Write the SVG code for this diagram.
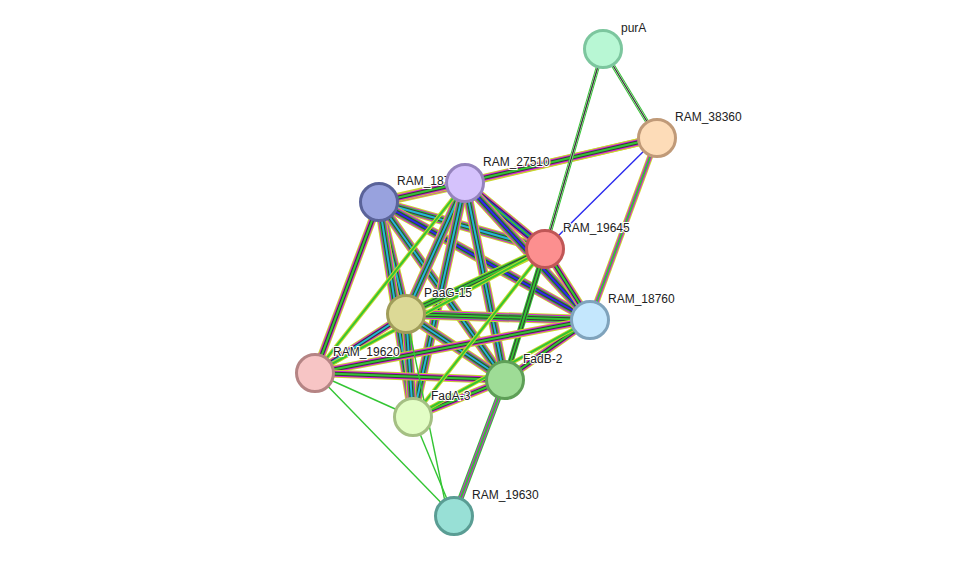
<svg xmlns="http://www.w3.org/2000/svg" xmlns:xlink="http://www.w3.org/1999/xlink" width="976" height="562" viewBox="0 0 976 562">
<style>
.y{stroke:#c8d82c;fill:none}.m{stroke:#d61fdb;fill:none}.g{stroke:#33c533;fill:none}.k{stroke:#3a3a3a;fill:none}.c{stroke:#22b9d6;fill:none}.b{stroke:#2a2aee;fill:none}
.w10{stroke-width:10}.w8{stroke-width:8}.w6{stroke-width:6}.w4{stroke-width:4}.w2{stroke-width:2}.w1{stroke-width:1.4}
.gap{stroke:#fff;fill:none}
.n{stroke-width:3}
text{font-family:"Liberation Sans",Arial,sans-serif;font-size:12px;fill:#222;paint-order:stroke;stroke:#fff;stroke-width:2px}
</style>
<defs>
<line id="AB" x1="379" y1="202" x2="465" y2="183"/><line id="AC" x1="379" y1="202" x2="545" y2="249"/>
<line id="AD" x1="379" y1="202" x2="590" y2="320"/><line id="AE" x1="379" y1="202" x2="406" y2="314"/>
<line id="AF" x1="379" y1="202" x2="315" y2="373"/><line id="AG" x1="379" y1="202" x2="505" y2="380"/>
<line id="AH" x1="379" y1="202" x2="413" y2="417"/><line id="BC" x1="465" y1="183" x2="545" y2="249"/>
<line id="BD" x1="465" y1="183" x2="590" y2="320"/><line id="BE" x1="465" y1="183" x2="406" y2="314"/>
<line id="BF" x1="465" y1="183" x2="315" y2="373"/><line id="BG" x1="465" y1="183" x2="505" y2="380"/>
<line id="BH" x1="465" y1="183" x2="413" y2="417"/><line id="CD" x1="545" y1="249" x2="590" y2="320"/>
<line id="CE" x1="545" y1="249" x2="406" y2="314"/><line id="CF" x1="545" y1="249" x2="315" y2="373"/>
<line id="CG" x1="545" y1="249" x2="505" y2="380"/><line id="CH" x1="545" y1="249" x2="413" y2="417"/>
<line id="DE" x1="590" y1="320" x2="406" y2="314"/><line id="DF" x1="590" y1="320" x2="315" y2="373"/>
<line id="DG" x1="590" y1="320" x2="505" y2="380"/><line id="DH" x1="590" y1="320" x2="413" y2="417"/>
<line id="EF" x1="406" y1="314" x2="315" y2="373"/><line id="EG" x1="406" y1="314" x2="505" y2="380"/>
<line id="EH" x1="406" y1="314" x2="413" y2="417"/><line id="FG" x1="315" y1="373" x2="505" y2="380"/>
<line id="GH" x1="505" y1="380" x2="413" y2="417"/>
<line id="XB" x1="657" y1="138" x2="465" y2="183"/><line id="XA" x1="657" y1="138" x2="379" y2="202"/>
<line id="XD" x1="657" y1="138" x2="590" y2="320"/><line id="ZG" x1="454" y1="516" x2="505" y2="380"/>
<line id="PX" x1="603" y1="49" x2="657" y2="138"/><line id="PC" x1="603" y1="49" x2="545" y2="249"/>
</defs>
<g id="connectors">
<g id="full">
<use xlink:href="#AB" class="y w10"/><use xlink:href="#AB" class="m w8"/><use xlink:href="#AB" class="g w6"/><use xlink:href="#AB" class="k w4"/><use xlink:href="#AB" class="b w2"/>
<use xlink:href="#AC" class="y w10"/><use xlink:href="#AC" class="m w8"/><use xlink:href="#AC" class="g w6"/><use xlink:href="#AC" class="k w4"/><use xlink:href="#AC" class="c w2"/>
<use xlink:href="#AD" class="y w10"/><use xlink:href="#AD" class="m w8"/><use xlink:href="#AD" class="g w6"/><use xlink:href="#AD" class="k w4"/><use xlink:href="#AD" class="b w2"/>
<use xlink:href="#AE" class="y w10"/><use xlink:href="#AE" class="m w8"/><use xlink:href="#AE" class="g w6"/><use xlink:href="#AE" class="k w4"/><use xlink:href="#AE" class="c w2"/>
<use xlink:href="#AG" class="y w10"/><use xlink:href="#AG" class="m w8"/><use xlink:href="#AG" class="g w6"/><use xlink:href="#AG" class="k w4"/><use xlink:href="#AG" class="c w2"/>
<use xlink:href="#AH" class="y w10"/><use xlink:href="#AH" class="m w8"/><use xlink:href="#AH" class="g w6"/><use xlink:href="#AH" class="k w4"/><use xlink:href="#AH" class="c w2"/>
<use xlink:href="#BC" class="y w10"/><use xlink:href="#BC" class="m w8"/><use xlink:href="#BC" class="k w6"/><use xlink:href="#BC" class="b w4"/><use xlink:href="#BC" class="g w2"/>
<use xlink:href="#BD" class="y w10"/><use xlink:href="#BD" class="m w8"/><use xlink:href="#BD" class="g w6"/><use xlink:href="#BD" class="k w4"/><use xlink:href="#BD" class="b w2"/>
<use xlink:href="#BE" class="y w10"/><use xlink:href="#BE" class="m w8"/><use xlink:href="#BE" class="g w6"/><use xlink:href="#BE" class="k w4"/><use xlink:href="#BE" class="c w2"/>
<use xlink:href="#BG" class="y w10"/><use xlink:href="#BG" class="m w8"/><use xlink:href="#BG" class="g w6"/><use xlink:href="#BG" class="k w4"/><use xlink:href="#BG" class="c w2"/>
<use xlink:href="#BH" class="y w10"/><use xlink:href="#BH" class="m w8"/><use xlink:href="#BH" class="g w6"/><use xlink:href="#BH" class="k w4"/><use xlink:href="#BH" class="c w2"/>
<use xlink:href="#DE" class="y w10"/><use xlink:href="#DE" class="m w8"/><use xlink:href="#DE" class="g w6"/><use xlink:href="#DE" class="k w4"/><use xlink:href="#DE" class="g w2"/>
<use xlink:href="#EG" class="y w10"/><use xlink:href="#EG" class="m w8"/><use xlink:href="#EG" class="g w6"/><use xlink:href="#EG" class="k w4"/><use xlink:href="#EG" class="c w2"/>
<use xlink:href="#EH" class="y w10"/><use xlink:href="#EH" class="m w8"/><use xlink:href="#EH" class="g w6"/><use xlink:href="#EH" class="k w4"/><use xlink:href="#EH" class="c w2"/>
<use xlink:href="#XB" class="y w8"/><use xlink:href="#XB" class="m w6"/><use xlink:href="#XB" class="k w4"/><use xlink:href="#XB" class="g w2"/>
<use xlink:href="#XA" class="y w8"/><use xlink:href="#XA" class="m w6"/><use xlink:href="#XA" class="k w4"/><use xlink:href="#XA" class="g w2"/>
</g>
<g id="mid">
<use xlink:href="#AF" class="y w8"/><use xlink:href="#AF" class="m w6"/><use xlink:href="#AF" class="k w4"/><use xlink:href="#AF" class="g w2"/>
<use xlink:href="#CD" class="y w8"/><use xlink:href="#CD" class="m w6"/><use xlink:href="#CD" class="k w4"/><use xlink:href="#CD" class="g w2"/>
<use xlink:href="#CE" class="y w8"/><use xlink:href="#CE" class="g w6"/><use xlink:href="#CE" class="k w4"/><use xlink:href="#CE" class="g w2"/>
<use xlink:href="#CG" class="g w6"/><use xlink:href="#CG" class="k w4"/><use xlink:href="#CG" class="g w2"/>
<use xlink:href="#DF" class="y w8"/><use xlink:href="#DF" class="m w6"/><use xlink:href="#DF" class="k w4"/><use xlink:href="#DF" class="g w2"/>
<use xlink:href="#DG" class="y w8"/><use xlink:href="#DG" class="m w6"/><use xlink:href="#DG" class="k w4"/><use xlink:href="#DG" class="g w2"/>
<use xlink:href="#EF" class="y w8"/><use xlink:href="#EF" class="m w6"/><use xlink:href="#EF" class="k w4"/><use xlink:href="#EF" class="c w2"/>
<use xlink:href="#FG" class="y w8"/><use xlink:href="#FG" class="m w6"/><use xlink:href="#FG" class="k w4"/><use xlink:href="#FG" class="g w2"/>
<use xlink:href="#GH" class="y w8"/><use xlink:href="#GH" class="m w6"/><use xlink:href="#GH" class="k w4"/><use xlink:href="#GH" class="g w2"/>
<use xlink:href="#XD" class="y w6"/><use xlink:href="#XD" class="m w4"/><use xlink:href="#XD" class="g w2"/>
<use xlink:href="#ZG" class="g w6"/><use xlink:href="#ZG" class="m w4"/><use xlink:href="#ZG" class="g w2"/>
<use xlink:href="#PX" class="g w4"/><use xlink:href="#PX" class="gap w2"/><use xlink:href="#PX" class="k w1"/>
<use xlink:href="#PC" class="g w4"/><use xlink:href="#PC" class="gap w2"/><use xlink:href="#PC" class="k w1"/>
</g>
<g id="light">
<use xlink:href="#BF" class="y w4"/><use xlink:href="#BF" class="g w2"/>
<use xlink:href="#CF" class="y w4"/><use xlink:href="#CF" class="g w2"/>
<use xlink:href="#CH" class="y w4"/><use xlink:href="#CH" class="g w2"/>
<use xlink:href="#DH" class="y w4"/><use xlink:href="#DH" class="g w2"/>
<line x1="315" y1="373" x2="413" y2="417" class="g w1"/>
<line x1="315" y1="373" x2="454" y2="516" class="g w1"/>
<line x1="413" y1="417" x2="454" y2="516" class="g w1"/>
<line x1="406" y1="314" x2="448" y2="516" class="g w1"/>
<line x1="657" y1="138" x2="545" y2="249" class="b w1"/>
</g>
</g>
<g id="labels">
<text x="621" y="32">purA</text>
<text x="675" y="121">RAM_38360</text>
<text x="397" y="185">RAM_187</text>
<text x="483" y="166">RAM_27510</text>
<text x="563" y="232">RAM_19645</text>
<text x="608" y="303">RAM_18760</text>
<text x="424" y="297">PaaG-15</text>
<text x="333" y="356">RAM_19620</text>
<text x="523" y="363">FadB-2</text>
<text x="431" y="400">FadA-3</text>
<text x="472" y="499">RAM_19630</text>
</g>
<g id="n-purA"><circle class="n" cx="603" cy="49" r="18.5" fill="#b8f7d4" stroke="#7cc69e"/></g>
<g id="n-RAM_38360"><circle class="n" cx="657" cy="138" r="18.5" fill="#fddcb8" stroke="#c09a78"/></g>
<g id="n-RAM_187"><circle class="n" cx="379" cy="202" r="18.5" fill="#98a2de" stroke="#5a6399"/></g>
<g id="n-RAM_27510"><circle class="n" cx="465" cy="183" r="18.5" fill="#d5c2fc" stroke="#9583bd"/></g>
<g id="n-RAM_19645"><circle class="n" cx="545" cy="249" r="18.5" fill="#fc8f8f" stroke="#c05656"/></g>
<g id="n-RAM_18760"><circle class="n" cx="590" cy="320" r="18.5" fill="#c4e7fd" stroke="#7fa3bc"/></g>
<g id="n-PaaG-15"><circle class="n" cx="406" cy="314" r="18.5" fill="#dcd996" stroke="#a09d5a"/></g>
<g id="n-RAM_19620"><circle class="n" cx="315" cy="373" r="18.5" fill="#f7c5c5" stroke="#b58484"/></g>
<g id="n-FadB-2"><circle class="n" cx="505" cy="380" r="18.5" fill="#9edc96" stroke="#5e9f57"/></g>
<g id="n-FadA-3"><circle class="n" cx="413" cy="417" r="18.5" fill="#e2fdc5" stroke="#a4bf83"/></g>
<g id="n-RAM_19630"><circle class="n" cx="454" cy="516" r="18.5" fill="#98e0d6" stroke="#5a9d94"/></g>
</svg>
